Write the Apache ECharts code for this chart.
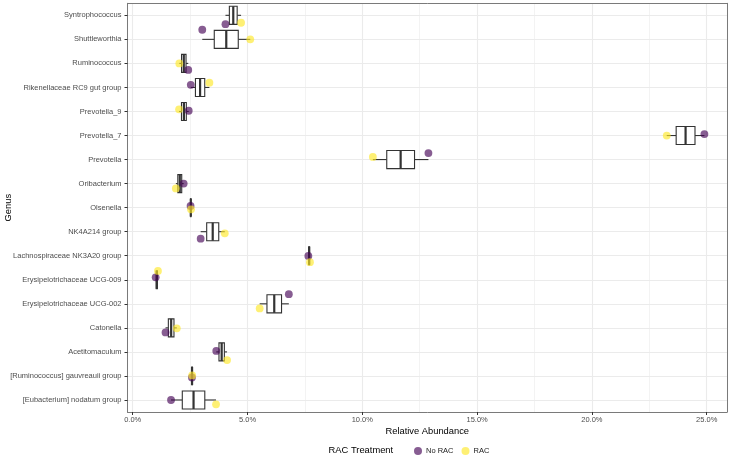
<!DOCTYPE html>
<html><head><meta charset="utf-8">
<script src="https://cdn.jsdelivr.net/npm/echarts@6/dist/echarts.min.js"></script>
<style>html,body{margin:0;padding:0;background:#fff}#c{width:733px;height:462px}</style>
</head><body><div id="c"></div>
<script>
// ---- data (top to bottom) ----
const genus = ["Syntrophococcus","Shuttleworthia","Ruminococcus","Rikenellaceae RC9 gut group","Prevotella_9","Prevotella_7","Prevotella","Oribacterium","Olsenella","NK4A214 group","Lachnospiraceae NK3A20 group","Erysipelotrichaceae UCG-009","Erysipelotrichaceae UCG-002","Catonella","Acetitomaculum","[Ruminococcus] gauvreauii group","[Eubacterium] nodatum group"];
const noRac = [4.04, 3.03, 2.42, 2.53, 2.44, 24.90, 12.88, 2.22, 2.52, 2.96, 7.65, 1.00, 6.80, 1.43, 3.64, 2.58, 1.67];
const rac   = [4.72, 5.12, 2.03, 3.34, 2.02, 23.26, 10.46, 1.88, 2.54, 4.01, 7.72, 1.10, 5.53, 1.92, 4.11, 2.59, 3.63];
// vertical jitter of the points (category units, + = downward)
const noRacJitter = [0.37, -0.40, 0.27, -0.11, -0.03, -0.06, -0.27, 0.00, -0.07, 0.29, 0.01, -0.10, -0.40, 0.19, -0.04, 0.06, 0.00];
const racJitter   = [0.31, 0.00, 0.00, -0.20, -0.09, 0.00, -0.11, 0.20, 0.07, 0.07, 0.27, -0.37, 0.19, 0.02, 0.34, -0.02, 0.18];
const seriesNames = ["No RAC", "RAC"];
const legendTitle = "RAC Treatment";
const xTitle = "Relative Abundance";
const yTitle = "Genus";

function quant(a, b, p) { const lo = Math.min(a, b), hi = Math.max(a, b); return lo + (hi - lo) * p; }
const boxData = genus.map((g, i) => [i,
  quant(noRac[i], rac[i], 0), quant(noRac[i], rac[i], 0.25), quant(noRac[i], rac[i], 0.5),
  quant(noRac[i], rac[i], 0.75), quant(noRac[i], rac[i], 1)]);

const FONT = '"Liberation Sans", Arial, sans-serif';
const XMIN = -0.2265, XMAX = 25.884;
const BORDER = '#7a7a7a';

const chart = echarts.init(document.getElementById('c'), null, { renderer: 'canvas' });
chart.setOption({
  animation: false,
  backgroundColor: '#ffffff',
  textStyle: { fontFamily: FONT },
  title: {
    text: legendTitle, left: 328.6, top: 445.5, padding: 0,
    textStyle: { fontSize: 9.35, fontWeight: 'normal', color: '#000', fontFamily: FONT }
  },
  legend: {
    data: seriesNames, left: 414, top: 447, padding: 0, itemGap: 8,
    icon: 'circle', itemWidth: 8, itemHeight: 8,
    textStyle: { fontSize: 7.5, color: '#1a1a1a', fontFamily: FONT, padding: [0, 0, 0, -1] }
  },
  grid: { left: 127.5, right: 6, top: 3.3, height: 408.7, containLabel: false, outerBoundsMode: 'none' },
  xAxis: [{
    type: 'value', min: XMIN, max: XMAX, splitNumber: 5, position: 'bottom',
    axisLine: { show: true, onZero: false, lineStyle: { color: BORDER, width: 1 } },
    axisTick: { show: true, length: 3, lineStyle: { color: '#333', width: 1 } },
    axisLabel: { show: true, showMinLabel: false, showMaxLabel: false, margin: 4, color: '#4d4d4d', fontSize: 7.5, fontFamily: FONT,
      formatter: v => v.toFixed(1) + '%' },
    splitLine: { show: true, lineStyle: { color: '#ebebeb', width: 1.1 } },
    minorTick: { show: false, splitNumber: 2 },
    minorSplitLine: { show: true, lineStyle: { color: '#ebebeb', width: 0.6 } },
    name: xTitle, nameLocation: 'middle', nameGap: 14.5, nameMoveOverlap: false,
    nameTextStyle: { fontSize: 9.35, color: '#000', fontFamily: FONT }
  }, {
    type: 'value', min: XMIN, max: XMAX, position: 'top',
    axisLine: { show: true, onZero: false, lineStyle: { color: BORDER, width: 1 } },
    axisTick: { show: false }, axisLabel: { show: false }, splitLine: { show: false }
  }],
  yAxis: [{
    type: 'category', data: genus, inverse: true, position: 'left',
    axisLine: { show: true, onZero: false, lineStyle: { color: BORDER, width: 1 } },
    axisTick: { show: true, alignWithLabel: true, length: 3, lineStyle: { color: '#333', width: 1 } },
    axisLabel: { interval: 0, margin: 6, color: '#4d4d4d', fontSize: 7.5, fontFamily: FONT },
    splitLine: { show: true, interval: 0, alignWithLabel: true, lineStyle: { color: '#ebebeb', width: 1.1 } },
    name: yTitle, nameLocation: 'middle', nameGap: 115, nameRotate: 90, nameMoveOverlap: false,
    nameTextStyle: { fontSize: 9.35, color: '#000', fontFamily: FONT }
  }, {
    type: 'value', min: -0.5, max: genus.length - 0.5, inverse: true, position: 'right',
    axisLine: { show: true, onZero: false, lineStyle: { color: BORDER, width: 1 } },
    axisTick: { show: false }, axisLabel: { show: false }, splitLine: { show: false }
  }],
  series: [{
    type: 'custom', name: 'box', xAxisIndex: 0, yAxisIndex: 0, z: 2,
    data: boxData,
    encode: { x: [1, 2, 3, 4, 5], y: 0 },
    renderItem: function (params, api) {
      const ci = api.value(0);
      const p = k => api.coord([api.value(k), ci]);
      const pMin = p(1), pQ1 = p(2), pMed = p(3), pQ3 = p(4), pMax = p(5);
      const bh = api.size([0, 1])[1] * 0.75;
      const y = pMin[1];
      const st = { stroke: '#333333', lineWidth: 1.1, fill: null };
      return { type: 'group', children: [
        { type: 'line', shape: { x1: pMin[0], y1: y, x2: pQ1[0], y2: y }, style: st },
        { type: 'line', shape: { x1: pQ3[0], y1: y, x2: pMax[0], y2: y }, style: st },
        { type: 'rect', shape: { x: pQ1[0], y: y - bh / 2, width: pQ3[0] - pQ1[0], height: bh },
          style: { fill: '#ffffff', stroke: '#333333', lineWidth: 1.1 } },
        { type: 'line', shape: { x1: pMed[0], y1: y - bh / 2, x2: pMed[0], y2: y + bh / 2 },
          style: { stroke: '#333333', lineWidth: 2.2 } }
      ] };
    }
  }, {
    type: 'scatter', name: seriesNames[0], xAxisIndex: 0, yAxisIndex: 1, z: 4,
    symbolSize: 7.8, itemStyle: { color: 'rgba(68,1,84,0.8)' },
    data: noRac.map((v, i) => [v, i + noRacJitter[i]])
  }, {
    type: 'scatter', name: seriesNames[1], xAxisIndex: 0, yAxisIndex: 1, z: 4,
    symbolSize: 7.8, itemStyle: { color: 'rgba(253,231,37,0.8)' },
    data: rac.map((v, i) => [v, i + racJitter[i]])
  }]
});
</script>
</body></html>
